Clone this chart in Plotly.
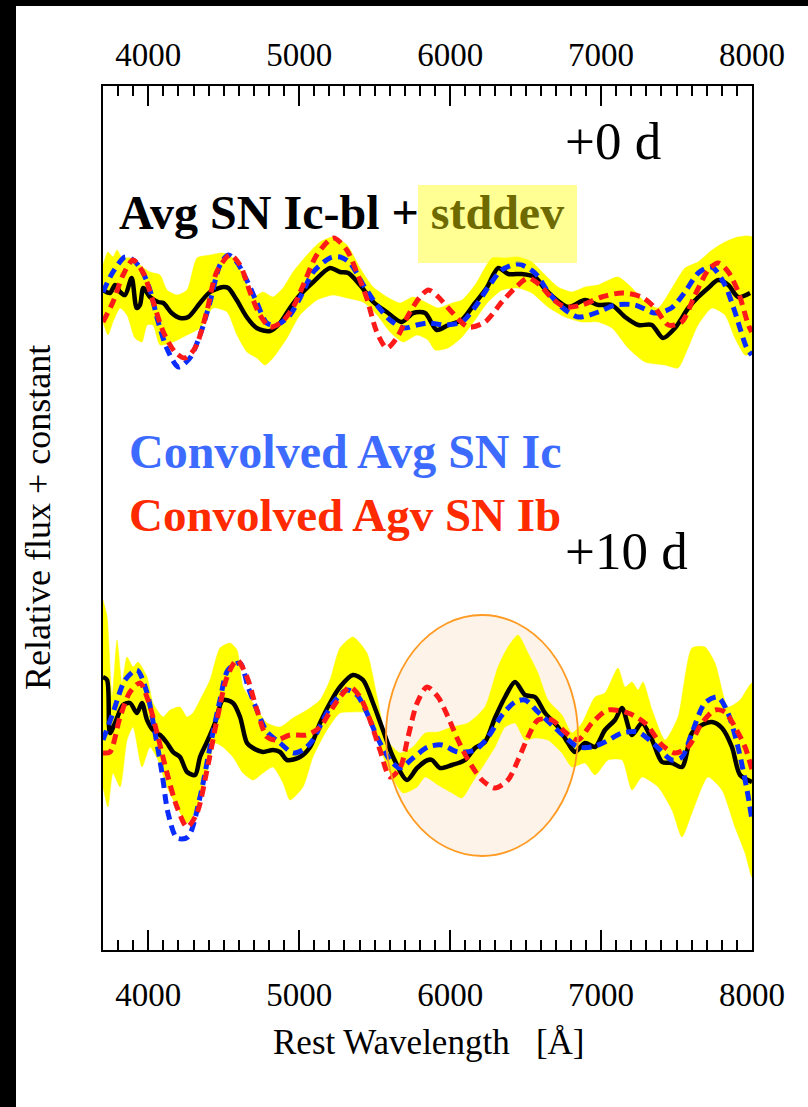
import plotly.graph_objects as go

# ---------------- data (rest wavelength [A], relative flux + constant) ----------------
# +0 d : average SN Ic-bl
top_avg_wl = [3700, 3746, 3780, 3813, 3846, 3890, 3923, 3945, 3967, 4011, 4066, 4100, 4155, 4210, 4265,
              4343, 4409, 4497, 4530, 4586, 4652, 4718, 4807, 4873, 4939, 5005, 5093, 5204, 5270, 5325,
              5403, 5491, 5580, 5679, 5756, 5834, 5911, 5988, 6077, 6165, 6242, 6319, 6385, 6474, 6562,
              6617, 6683, 6783, 6894, 6982, 7071, 7159, 7247, 7336, 7410, 7490, 7578, 7644, 7710, 7776,
              7843, 7909, 7987]
top_avg_flux = [6.60, 6.57, 6.65, 6.58, 6.55, 6.72, 6.42, 6.45, 6.62, 6.53, 6.48, 6.47, 6.37, 6.32, 6.33,
                6.47, 6.58, 6.63, 6.62, 6.50, 6.33, 6.22, 6.19, 6.27, 6.42, 6.55, 6.68, 6.82, 6.78, 6.77,
                6.65, 6.48, 6.38, 6.28, 6.37, 6.37, 6.20, 6.25, 6.30, 6.47, 6.62, 6.82, 6.76, 6.76, 6.73,
                6.63, 6.53, 6.43, 6.50, 6.45, 6.45, 6.33, 6.25, 6.25, 6.12, 6.22, 6.42, 6.53, 6.62, 6.70,
                6.65, 6.53, 6.57]

top_sd_hi_wl = [3700, 3733, 3766, 3793, 3826, 3879, 3945, 4011, 4078, 4124, 4190, 4257, 4323, 4409, 4495,
                4561, 4628, 4694, 4760, 4826, 4893, 4959, 5052, 5138, 5224, 5317, 5403, 5489, 5582, 5668,
                5754, 5834, 5920, 6013, 6079, 6165, 6278, 6364, 6450, 6542, 6629, 6715, 6807, 6894, 6980,
                7112, 7205, 7291, 7378, 7470, 7556, 7642, 7735, 7821, 7907, 8000]
top_sd_hi = [6.85, 6.98, 6.93, 7.00, 6.92, 6.92, 6.85, 6.78, 6.75, 6.60, 6.55, 6.60, 6.92, 6.95, 6.97,
             6.92, 6.75, 6.53, 6.58, 6.53, 6.62, 6.78, 6.95, 7.08, 7.13, 7.05, 6.82, 6.63, 6.53, 6.47,
             6.53, 6.48, 6.42, 6.47, 6.50, 6.65, 6.92, 6.92, 6.93, 6.88, 6.75, 6.63, 6.58, 6.63, 6.65,
             6.73, 6.62, 6.48, 6.42, 6.62, 6.82, 6.88, 7.00, 7.08, 7.13, 7.13]
top_sd_lo_wl = [3700, 3733, 3766, 3813, 3859, 3912, 3958, 3992, 4031, 4078, 4164, 4257, 4343, 4429, 4522,
                4588, 4654, 4720, 4773, 4826, 4919, 5005, 5118, 5224, 5317, 5423, 5516, 5602, 5688, 5781,
                5853, 5900, 5986, 6079, 6165, 6251, 6344, 6450, 6542, 6648, 6761, 6874, 6980, 7073, 7179,
                7291, 7424, 7510, 7576, 7642, 7735, 7821, 7887, 7954, 8000]
top_sd_lo = [6.28, 6.15, 6.28, 6.42, 6.35, 6.12, 6.08, 6.25, 6.25, 6.05, 6.08, 6.15, 6.22, 6.42, 6.38,
             6.15, 5.98, 5.92, 5.85, 5.92, 6.12, 6.35, 6.50, 6.55, 6.52, 6.48, 6.35, 6.18, 6.08, 6.15,
             6.10, 6.00, 6.02, 6.13, 6.30, 6.48, 6.60, 6.62, 6.57, 6.43, 6.33, 6.28, 6.28, 6.22, 6.02,
             5.88, 5.85, 5.82, 6.02, 6.25, 6.42, 6.35, 6.12, 5.95, 5.97]

top_ic_wl = [3700, 3766, 3846, 3899, 3956, 4011, 4066, 4122, 4199, 4276, 4343, 4409, 4475, 4530, 4586,
             4652, 4718, 4785, 4851, 4939, 5005, 5093, 5204, 5270, 5337, 5425, 5514, 5602, 5690, 5779,
             5856, 5966, 6077, 6165, 6253, 6342, 6452, 6562, 6650, 6739, 6849, 6982, 7092, 7225, 7358,
             7466, 7556, 7644, 7733, 7821, 7887, 7965, 7998]
top_ic_flux = [6.58, 6.78, 6.93, 6.90, 6.80, 6.60, 6.28, 6.02, 5.83, 5.92, 6.15, 6.48, 6.85, 6.95, 6.88,
               6.70, 6.48, 6.27, 6.25, 6.35, 6.52, 6.78, 6.92, 6.93, 6.87, 6.65, 6.45, 6.30, 6.22, 6.25,
               6.27, 6.25, 6.28, 6.43, 6.63, 6.80, 6.86, 6.77, 6.58, 6.43, 6.33, 6.38, 6.45, 6.45, 6.37,
               6.42, 6.58, 6.77, 6.83, 6.65, 6.38, 6.02, 5.95]

top_ib_wl = [3700, 3766, 3833, 3899, 3967, 4033, 4100, 4177, 4243, 4310, 4387, 4453, 4542, 4608, 4674,
             4740, 4807, 4884, 4961, 5027, 5116, 5226, 5315, 5381, 5447, 5514, 5580, 5646, 5723, 5800,
             5856, 5922, 6011, 6121, 6231, 6342, 6430, 6518, 6595, 6673, 6761, 6872, 7004, 7137, 7269,
             7358, 7446, 7534, 7622, 7710, 7776, 7843, 7909, 7976, 7998]
top_ib_flux = [6.28, 6.48, 6.75, 6.90, 6.77, 6.48, 6.18, 5.98, 5.92, 6.02, 6.38, 6.78, 6.95, 6.85, 6.58,
               6.35, 6.23, 6.28, 6.43, 6.65, 6.95, 7.12, 7.00, 6.78, 6.52, 6.18, 6.02, 6.12, 6.35, 6.53,
               6.60, 6.53, 6.38, 6.23, 6.28, 6.48, 6.62, 6.72, 6.65, 6.52, 6.43, 6.45, 6.53, 6.57, 6.53,
               6.42, 6.25, 6.28, 6.55, 6.80, 6.87, 6.78, 6.58, 6.25, 6.18]

# +10 d : average SN Ic-bl
bot_avg_wl = [3700, 3727, 3746, 3780, 3833, 3879, 3925, 3958, 3992, 4031, 4078, 4124, 4164, 4210, 4257,
              4310, 4343, 4389, 4442, 4495, 4561, 4608, 4654, 4694, 4760, 4826, 4873, 4919, 5005, 5072,
              5138, 5204, 5270, 5356, 5423, 5489, 5555, 5622, 5714, 5781, 5853, 5880, 5933, 6013, 6099,
              6165, 6231, 6297, 6364, 6430, 6496, 6562, 6629, 6715, 6781, 6827, 6894, 6960, 7026, 7092,
              7139, 7205, 7271, 7338, 7404, 7470, 7536, 7602, 7668, 7735, 7801, 7867, 7921, 8000]
bot_avg_flux = [2.73, 2.70, 2.17, 2.27, 2.45, 2.47, 2.37, 2.47, 2.30, 2.20, 2.15, 2.07, 1.98, 1.93, 1.78,
                1.75, 1.93, 2.08, 2.27, 2.50, 2.47, 2.33, 2.07, 2.02, 1.98, 2.00, 1.98, 1.90, 1.93, 2.03,
                2.27, 2.47, 2.63, 2.75, 2.70, 2.47, 2.20, 1.93, 1.70, 1.82, 1.90, 1.90, 1.82, 1.85, 1.90,
                2.02, 2.08, 2.32, 2.53, 2.68, 2.55, 2.53, 2.37, 2.23, 2.07, 1.98, 2.07, 2.03, 2.20, 2.30,
                2.42, 2.15, 2.27, 2.10, 1.88, 1.87, 1.83, 2.17, 2.25, 2.28, 2.22, 2.03, 1.75, 1.68]

bot_sd_hi_wl = [3700, 3727, 3760, 3793, 3826, 3859, 3899, 3932, 3992, 4031, 4098, 4144, 4210, 4257, 4296,
                4343, 4409, 4475, 4542, 4588, 4628, 4694, 4787, 4873, 4959, 5052, 5138, 5204, 5270, 5356,
                5449, 5516, 5582, 5668, 5754, 5834, 5920, 6013, 6119, 6231, 6317, 6383, 6450, 6516, 6582,
                6648, 6741, 6807, 6874, 6960, 7026, 7112, 7159, 7205, 7245, 7278, 7338, 7424, 7510, 7602,
                7688, 7755, 7841, 7921, 8000]
bot_sd_hi = [3.50, 3.33, 2.53, 3.10, 2.67, 2.93, 2.83, 2.88, 2.73, 2.47, 2.33, 2.40, 2.43, 2.33, 2.37,
             2.50, 2.70, 3.02, 3.07, 3.00, 2.63, 2.47, 2.27, 2.23, 2.32, 2.40, 2.50, 2.70, 3.02, 3.13,
             2.97, 2.53, 2.10, 1.97, 2.03, 2.17, 2.18, 2.23, 2.27, 2.43, 2.83, 3.03, 3.15, 2.97, 2.77,
             2.50, 2.35, 2.17, 2.27, 2.53, 2.57, 2.82, 2.63, 2.68, 2.60, 2.68, 2.40, 2.10, 2.33, 3.02,
             3.03, 2.87, 2.43, 2.50, 2.67]
bot_sd_lo_wl = [3700, 3733, 3766, 3813, 3859, 3899, 3958, 4011, 4064, 4124, 4190, 4257, 4323, 4389, 4442,
                4495, 4561, 4628, 4694, 4760, 4826, 4893, 4939, 5025, 5091, 5184, 5270, 5356, 5449, 5516,
                5602, 5688, 5781, 5834, 5920, 6013, 6079, 6145, 6231, 6297, 6364, 6430, 6496, 6562, 6648,
                6741, 6807, 6894, 6960, 7046, 7139, 7205, 7271, 7378, 7470, 7536, 7602, 7708, 7801, 7887,
                7954, 8000]
bot_sd_lo = [1.63, 1.43, 1.77, 1.63, 2.10, 2.23, 1.83, 2.03, 1.90, 1.63, 1.43, 1.27, 1.43, 1.77, 2.07,
             2.03, 1.93, 1.77, 1.70, 1.77, 1.83, 1.67, 1.50, 1.63, 1.93, 2.20, 2.37, 2.38, 2.37, 2.10,
             1.77, 1.57, 1.63, 1.73, 1.65, 1.57, 1.52, 1.67, 1.87, 2.03, 2.23, 2.27, 2.10, 2.12, 2.10,
             1.97, 1.83, 1.87, 1.75, 1.90, 1.90, 1.60, 1.73, 1.63, 1.40, 1.13, 1.37, 1.73, 1.60, 1.23,
             0.97, 0.73]

bot_ic_wl = [3700, 3766, 3846, 3925, 3992, 4045, 4091, 4131, 4190, 4263, 4343, 4409, 4475, 4528, 4608,
             4661, 4720, 4787, 4873, 4959, 5025, 5091, 5158, 5224, 5317, 5383, 5449, 5516, 5602, 5668,
             5754, 5853, 5946, 6052, 6165, 6251, 6344, 6430, 6496, 6582, 6675, 6761, 6847, 6940, 7026,
             7139, 7245, 7358, 7470, 7536, 7602, 7688, 7774, 7841, 7907, 7967, 8000]
bot_ic_flux = [2.10, 2.37, 2.70, 2.80, 2.57, 2.17, 1.77, 1.37, 1.12, 1.13, 1.53, 2.03, 2.50, 2.80, 2.87,
               2.63, 2.40, 2.18, 2.07, 1.97, 2.00, 2.10, 2.30, 2.47, 2.60, 2.55, 2.37, 2.13, 1.90, 1.82,
               1.92, 2.03, 2.05, 1.98, 2.00, 2.13, 2.35, 2.48, 2.50, 2.38, 2.25, 2.13, 2.03, 2.03, 2.08,
               2.17, 2.18, 2.05, 1.90, 1.93, 2.17, 2.47, 2.53, 2.37, 2.03, 1.60, 1.30]

bot_ib_wl = [3700, 3746, 3813, 3879, 3945, 3998, 4058, 4124, 4190, 4257, 4323, 4389, 4455, 4522, 4588,
             4654, 4720, 4787, 4853, 4939, 5052, 5138, 5204, 5270, 5337, 5403, 5469, 5535, 5602, 5668,
             5721, 5781, 5847, 5920, 5986, 6052, 6119, 6211, 6297, 6383, 6450, 6516, 6582, 6675, 6761,
             6847, 6940, 7046, 7179, 7291, 7404, 7490, 7576, 7668, 7755, 7821, 7887, 7954, 8000]
bot_ib_flux = [1.97, 1.98, 2.33, 2.58, 2.67, 2.50, 2.17, 1.77, 1.43, 1.23, 1.37, 1.80, 2.30, 2.73, 2.90,
               2.73, 2.40, 2.13, 2.10, 2.15, 2.15, 2.23, 2.38, 2.53, 2.63, 2.53, 2.30, 2.00, 1.73, 1.82,
               2.13, 2.47, 2.63, 2.53, 2.33, 2.10, 1.90, 1.70, 1.62, 1.70, 1.90, 2.13, 2.30, 2.30, 2.18,
               2.10, 2.27, 2.40, 2.37, 2.27, 2.05, 1.97, 2.03, 2.27, 2.40, 2.38, 2.23, 2.03, 1.80]

# highlighted wavelength region (ellipse) in the +10 d spectrum
region_wl = [5575, 6847]
region_flux = [0.94, 3.35]

x_range = [3700, 8000]
y_range = [0, 8.64]
major_ticks = [4000, 5000, 6000, 7000, 8000]
tick_labels = ["4000", "5000", "6000", "7000", "8000"]

# ---------------- style ----------------
FONT = "Liberation Serif"
W, H = 808, 1107
ML, MR, MT, MB = 103, 56, 86, 157
PW, PH = W - ML - MR, H - MT - MB


def px(x):
    return (x - ML) / PW


def py(y):
    return (H - MB - y) / PH


YELLOW = "#ffff00"
BLUE = "#0a2cff"
RED = "#ff1a1a"

fig = go.Figure()


def band(wl_hi, hi, wl_lo, lo):
    # standard-deviation band on the bottom (main) x axis, drawn beneath the curves
    fig.add_trace(go.Scatter(
        x=wl_hi + wl_lo[::-1], y=hi + lo[::-1], mode="lines", fill="toself",
        fillcolor=YELLOW, line=dict(width=0.5, color=YELLOW, shape="spline", smoothing=0.6),
        xaxis="x", hoverinfo="skip", showlegend=False))


def curve(wl, fl, color, dash=None, width=4.5):
    # spectra on the overlaid top x axis (same range), drawn above the bands
    fig.add_trace(go.Scatter(
        x=wl, y=fl, mode="lines", xaxis="x2",
        line=dict(color=color, width=width, dash=dash, shape="spline", smoothing=0.8),
        hoverinfo="skip", showlegend=False))


band(top_sd_hi_wl, top_sd_hi, top_sd_lo_wl, top_sd_lo)
band(bot_sd_hi_wl, bot_sd_hi, bot_sd_lo_wl, bot_sd_lo)
curve(top_avg_wl, top_avg_flux, "black", width=4.5)
curve(bot_avg_wl, bot_avg_flux, "black", width=4.5)
curve(top_ic_wl, top_ic_flux, BLUE, dash="10px,6px", width=5)
curve(bot_ic_wl, bot_ic_flux, BLUE, dash="10px,6px", width=5)
curve(top_ib_wl, top_ib_flux, RED, dash="10px,6px", width=5)
curve(bot_ib_wl, bot_ib_flux, RED, dash="10px,6px", width=5)

tickfont = dict(family=FONT, size=33, color="black")

fig.update_layout(
    width=W, height=H, margin=dict(l=ML, r=MR, t=MT, b=MB, pad=0),
    paper_bgcolor="white", plot_bgcolor="white", showlegend=False,
    xaxis=dict(range=x_range, tickvals=major_ticks, ticktext=tick_labels, ticks="inside",
               ticklen=20, tickwidth=1.5, tickcolor="black",
               minor=dict(dtick=100, tick0=3700, ticks="inside", ticklen=10, tickwidth=1.5,
                          tickcolor="black"),
               showline=True, linewidth=2, linecolor="black", mirror="allticks",
               showgrid=False, zeroline=False, tickfont=tickfont, ticklabelstandoff=14),
    xaxis2=dict(range=x_range, overlaying="x", side="top", tickvals=major_ticks,
                ticktext=tick_labels, ticks="", showline=False, showgrid=False,
                zeroline=False, tickfont=tickfont, ticklabelstandoff=12),
    yaxis=dict(range=y_range, showline=True, linewidth=2, linecolor="black", mirror=True,
               ticks="", showticklabels=False, showgrid=False, zeroline=False),
)

shapes = [
    # highlighted region
    dict(type="circle", xref="x", yref="y", x0=region_wl[0], x1=region_wl[1],
         y0=region_flux[0], y1=region_flux[1], fillcolor="#fdf3e8", line=dict(width=0),
         layer="below"),
    dict(type="circle", xref="x", yref="y", x0=region_wl[0], x1=region_wl[1],
         y0=region_flux[0], y1=region_flux[1], line=dict(color="#ff9a22", width=1.8),
         layer="above"),
    # highlight box behind "stddev"
    dict(type="rect", xref="paper", yref="paper", x0=px(418), x1=px(577), y0=py(263), y1=py(185),
         fillcolor="rgba(255,255,0,0.42)", line=dict(width=0), layer="above"),
    # black frame strips of the original image
    dict(type="rect", xref="paper", yref="paper", x0=px(-20), x1=px(16), y0=py(H + 20), y1=py(-20),
         fillcolor="black", line=dict(width=0), layer="above"),
    dict(type="rect", xref="paper", yref="paper", x0=px(-20), x1=px(W + 20), y0=py(6), y1=py(-20),
         fillcolor="black", line=dict(width=0), layer="above"),
]
fig.update_layout(shapes=shapes)

ann = [
    dict(text="+0 d", x=px(563), y=py(141), xanchor="left", yanchor="middle",
         font=dict(family=FONT, size=53, color="black")),
    dict(text="+10 d", x=px(563), y=py(551), xanchor="left", yanchor="middle",
         font=dict(family=FONT, size=53, color="black")),
    dict(text="<b>Avg SN Ic-bl + <span style='color:#6e6a00'>stddev</span></b>",
         x=px(117), y=py(212), xanchor="left", yanchor="middle",
         font=dict(family=FONT, size=48, color="black")),
    dict(text="<b>Convolved Avg SN Ic</b>", x=px(127), y=py(451), xanchor="left",
         yanchor="middle", font=dict(family=FONT, size=48, color="#3d6bff")),
    dict(text="<b>Convolved Agv SN Ib</b>", x=px(127), y=py(515), xanchor="left",
         yanchor="middle", font=dict(family=FONT, size=47, color="#ff2a00")),
    dict(text="Rest Wavelength\u00a0\u00a0\u00a0[\u00c5]", x=px(428), y=py(1042),
         xanchor="center", yanchor="middle", font=dict(family=FONT, size=35, color="black")),
    dict(text="Relative flux + constant", x=px(38), y=py(518), textangle=-90,
         xanchor="center", yanchor="middle", font=dict(family=FONT, size=36, color="black")),
]
for a in ann:
    a.update(xref="paper", yref="paper", showarrow=False)
fig.update_layout(annotations=ann)

fig.write_html("out.html")
